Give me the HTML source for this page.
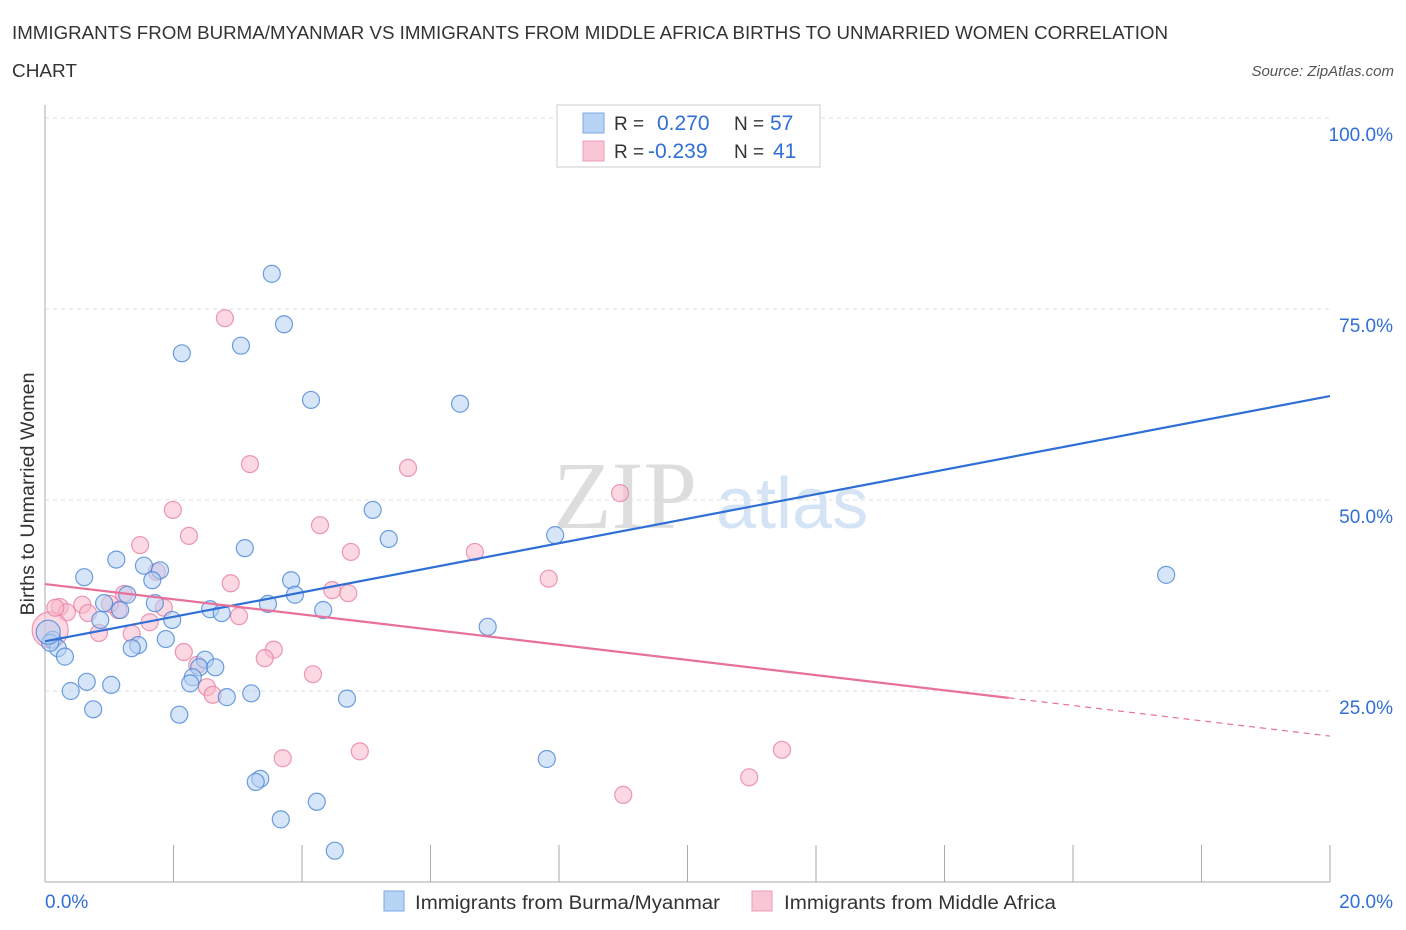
<!DOCTYPE html>
<html><head><meta charset="utf-8"><style>
body{margin:0;background:#fff;font-family:"Liberation Sans",sans-serif;}
svg{display:block}
</style></head><body>
<svg width="1406" height="930" id="chart">
<text x="12" y="39" font-size="18" fill="#333" textLength="1156" lengthAdjust="spacingAndGlyphs">IMMIGRANTS FROM BURMA/MYANMAR VS IMMIGRANTS FROM MIDDLE AFRICA BIRTHS TO UNMARRIED WOMEN CORRELATION</text>
<text x="12" y="77" font-size="18" fill="#333" textLength="65" lengthAdjust="spacingAndGlyphs">CHART</text>
<text x="1394" y="76" font-size="15" fill="#555" font-style="italic" text-anchor="end">Source: ZipAtlas.com</text>
<g>
<text x="553" y="528" font-size="96" font-family="Liberation Serif,serif" fill="#ddd">ZIP</text>
<text x="716" y="528" font-size="72" fill="#d5e4f5">atlas</text>
</g>
<g id="grid"></g><g id="axes"></g><g id="pts"></g><g id="lines"></g>
<text transform="translate(34,494) rotate(-90)" font-size="19" fill="#333" text-anchor="middle" textLength="243" lengthAdjust="spacingAndGlyphs">Births to Unmarried Women</text>
<g>
<rect x="557" y="105" width="263" height="62" fill="#fff" stroke="#ccc"/>
<rect x="583" y="113" width="21" height="20" fill="#b8d4f5" stroke="#7aa8e6"/>
<rect x="583" y="141" width="21" height="20" fill="#f9c6d5" stroke="#ec9cb6"/>
<text x="614" y="130" font-size="19" fill="#333">R = </text><text x="657" y="130" font-size="21" fill="#2f6fd6">0.270</text>
<text x="734" y="130" font-size="19" fill="#333">N = </text><text x="770" y="130" font-size="21" fill="#2f6fd6">57</text>
<text x="614" y="158" font-size="19" fill="#333">R = </text><text x="648" y="158" font-size="21" fill="#2f6fd6">-0.239</text>
<text x="734" y="158" font-size="19" fill="#333">N = </text><text x="773" y="158" font-size="21" fill="#2f6fd6">41</text>
</g>
<g>
<rect x="384" y="891" width="20" height="20" fill="#b8d4f5" stroke="#7aa8e6"/>
<text x="415" y="909" font-size="19" fill="#333" textLength="305" lengthAdjust="spacingAndGlyphs">Immigrants from Burma/Myanmar</text>
<rect x="752" y="891" width="20" height="20" fill="#f9c6d5" stroke="#ec9cb6"/>
<text x="784" y="909" font-size="19" fill="#333" textLength="272" lengthAdjust="spacingAndGlyphs">Immigrants from Middle Africa</text>
</g>
</svg>
<script>
const yTicks=[25,50,75,100];
const yTickLabels=["25.0%","50.0%","75.0%","100.0%"];
const xTicks=[0,2,4,6,8,10,12,14,16,18,20];
const xEndLabels=["0.0%","20.0%"];
const blueX=[11.17,3.53,3.72,2.13,3.05,4.14,6.46,5.10,5.35,7.94,17.45,3.11,1.11,0.61,1.54,1.79,1.67,3.83,3.89,1.28,0.92,1.17,1.71,1.98,2.57,2.75,3.47,4.33,0.86,6.89,1.88,1.45,1.35,0.12,0.20,0.31,2.49,2.40,2.65,2.30,2.26,0.65,1.03,0.40,2.83,3.21,4.70,0.75,2.09,7.81,3.35,3.28,4.23,3.67,4.51,0.08,0.05];
const blueY=[100,79.6,73.0,69.2,70.2,63.1,62.6,48.7,44.9,45.4,40.2,43.7,42.2,39.9,41.4,40.8,39.5,39.5,37.6,37.6,36.5,35.6,36.5,34.3,35.7,35.2,36.4,35.6,34.3,33.4,31.8,31.0,30.6,31.7,30.6,29.5,29.1,28.1,28.1,26.8,26.0,26.2,25.8,25.0,24.2,24.7,24.0,22.6,21.9,16.1,13.5,13.1,10.5,8.2,4.1,31.3,32.7];
const pinkX=[2.80,3.19,5.65,8.95,1.99,4.28,2.24,4.76,6.69,1.48,7.84,2.89,4.47,4.72,1.23,1.74,0.23,0.34,0.58,0.67,1.14,1.85,1.63,3.02,0.84,1.35,2.16,3.56,3.42,2.37,4.17,2.52,2.61,3.70,4.90,11.47,10.96,9.00,0.08,1.01,0.16];
const pinkY=[73.8,54.7,54.2,50.9,48.7,46.7,45.3,43.2,43.2,44.1,39.7,39.1,38.2,37.8,37.7,40.6,36.0,35.3,36.3,35.2,35.6,35.9,34.0,34.8,32.6,32.5,30.1,30.4,29.3,28.4,27.2,25.5,24.5,16.2,17.1,17.3,13.7,11.4,33.0,36.4,35.9];
const blueTrend=[0,31.5,20,63.6];
const pinkTrend=[0,39.0,15.0,24.1,20,19.1];
const NS="http://www.w3.org/2000/svg";
const sx=v=>45+v/20*1285, sy=v=>882-v/100*764;
function mk(tag,attrs,parent){const e=document.createElementNS(NS,tag);for(const k in attrs)e.setAttribute(k,attrs[k]);document.getElementById(parent).appendChild(e);return e;}
yTicks.forEach((t,i)=>{
 const g=mk('line',{x1:45,x2:1330,y1:sy(t),y2:sy(t),stroke:'#ddd','stroke-dasharray':'4,4'},'grid');
 
 
 const l=mk('text',{x:1393,y:sy(t)+23,'font-size':19,fill:'#2f6fd6','text-anchor':'end'},'grid');
 l.textContent=yTickLabels[i];
 
 
});
const ax=mk('line',{x1:45,x2:45,y1:105,y2:882,stroke:'#aaa'},'axes');


const bx=mk('line',{x1:45,x2:1330,y1:882,y2:882,stroke:'#aaa'},'axes');


xTicks.forEach(t=>{
 const k=mk('line',{x1:sx(t),x2:sx(t),y1:845,y2:882,stroke:'#aaa'},'axes');
 
 
});
const xl0=mk('text',{x:45,y:908,'font-size':19,fill:'#2f6fd6'},'axes');xl0.textContent=xEndLabels[0];


const xl1=mk('text',{x:1393,y:908,'font-size':19,fill:'#2f6fd6','text-anchor':'end'},'axes');xl1.textContent=xEndLabels[1];


function pts(X,Y,fill,stroke,name,bigIdx,bigR){
 X.forEach((x,i)=>{
  const r=bigIdx.includes(i)?bigR:8.5;
  const c=mk('circle',{cx:sx(x),cy:sy(Y[i]),r:r,fill:fill,'fill-opacity':0.55,stroke:stroke,'stroke-opacity':0.8,'stroke-width':1.2},'pts');
  
  
 });
}
pts(pinkX,pinkY,'#f7b8cb','#e97fa2','point-middle-africa',[38],18);
pts(blueX,blueY,'#b5d0f2','#4a86d8','point-burma',[56],12);
const bl=mk('line',{x1:sx(blueTrend[0]),y1:sy(blueTrend[1]),x2:sx(blueTrend[2]),y2:sy(blueTrend[3]),stroke:'#2f6fd6','stroke-width':2.2},'lines');


const pl=mk('line',{x1:sx(pinkTrend[0]),y1:sy(pinkTrend[1]),x2:sx(pinkTrend[2]),y2:sy(pinkTrend[3]),stroke:'#e8719a','stroke-width':2.2},'lines');


const pd=mk('line',{x1:sx(pinkTrend[2]),y1:sy(pinkTrend[3]),x2:sx(pinkTrend[4]),y2:sy(pinkTrend[5]),stroke:'#e8719a','stroke-width':1.2,'stroke-dasharray':'6,5'},'lines');


</script>
</body></html>
